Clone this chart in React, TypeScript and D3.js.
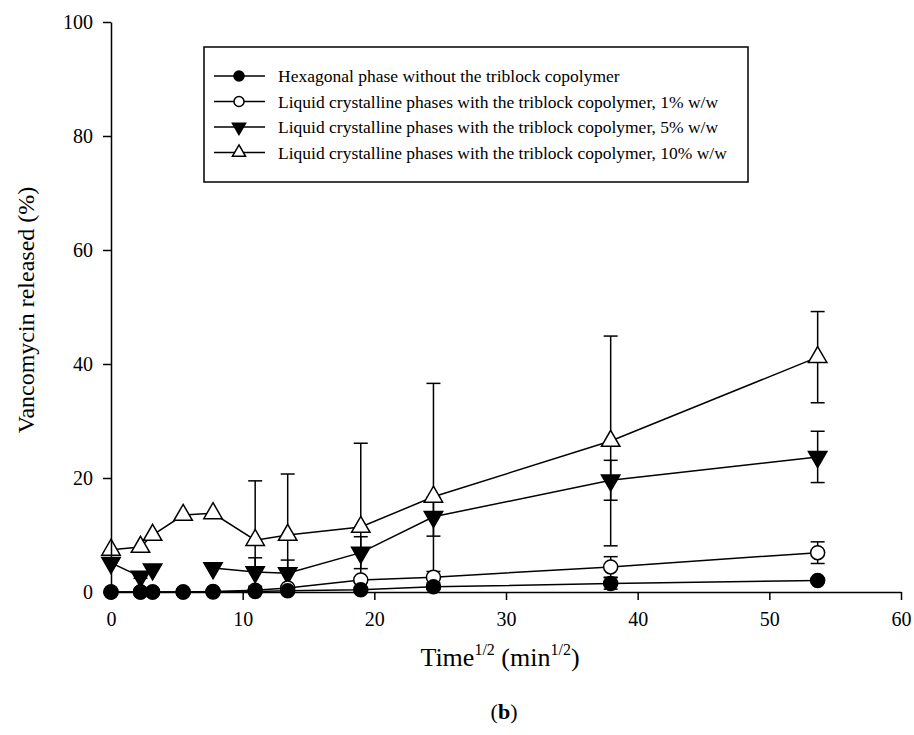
import React, { useEffect, useRef } from "react"
import { scaleLinear, axisBottom, axisLeft, select, line, symbol, symbolTriangle } from "d3"

// time^(1/2) in min^(1/2)
const timeSqrt = [0, 2.24, 3.16, 5.48, 7.75, 10.95, 13.42, 18.97, 24.49, 37.95, 53.67]

const hexagonal = [0, 0, 0, 0, 0, 0.1, 0.2, 0.4, 0.9, 1.5, 2.0]
const hexagonalErr = [0, 0, 0, 0, 0, 0.2, 0.3, 0.3, 0.4, 1.0, 0.4]

const lc1 = [0, 0, 0, 0, 0.1, 0.3, 0.7, 2.1, 2.6, 4.4, 6.9]
const lc1Err = [0, 0, 0, 0, 0, 0.2, 0.3, 0.4, 1.0, 1.8, 1.9]

const lc5 = [5.1, 2.7, 4.0, null, 4.2, 3.5, 3.3, 6.9, 13.2, 19.6, 23.7]
const lc5Err = [0, 0.3, 0, null, 0, 2.5, 2.3, 2.8, 3.4, 3.5, 4.5]

const lc10 = [7.4, 7.9, 10.0, 13.5, 13.8, 9.1, 10.0, 11.4, 16.7, 26.5, 41.2]
const lc10Err = [0, 0, 0, 0, 0, 10.4, 10.7, 14.7, 19.9, 18.4, 8.0]

const legendLabels = [
  "Hexagonal phase without the triblock copolymer",
  "Liquid crystalline phases with the triblock copolymer, 1% w/w",
  "Liquid crystalline phases with the triblock copolymer, 5% w/w",
  "Liquid crystalline phases with the triblock copolymer, 10% w/w"
]

const xTicks = [0, 10, 20, 30, 40, 50, 60]
const yTicks = [0, 20, 40, 60, 80, 100]

const FONT = "'Liberation Serif', 'Times New Roman', serif"

type Kind = "filled" | "open" | "down" | "up"

function Marker({ kind, cx, cy, size }: { kind: Kind; cx: number; cy: number; size: number }) {
  if (kind === "filled" || kind === "open") {
    return (
      <circle cx={cx} cy={cy} r={size}
        fill={kind === "filled" ? "#000" : "#fff"} stroke="#000" strokeWidth={1.5} />
    )
  }
  const area = size * size * 3.0
  const p = symbol(symbolTriangle, area)()
  const rot = kind === "down" ? " rotate(180)" : ""
  return (
    <path d={p || ""} transform={`translate(${cx},${cy})${rot}`}
      fill={kind === "down" ? "#000" : "#fff"} stroke="#000" strokeWidth={1.5} />
  )
}

export default function App() {
  const xAxisRef = useRef<SVGGElement>(null)
  const yAxisRef = useRef<SVGGElement>(null)

  const x = scaleLinear().domain([0, 60]).range([111, 901])
  const y = scaleLinear().domain([0, 100]).range([592, 22])

  useEffect(() => {
    document.body.style.margin = "0"
    const xa = select(xAxisRef.current!)
    xa.call(axisBottom(x).tickValues(xTicks).tickSize(8).tickSizeOuter(0).tickPadding(12))
    const ya = select(yAxisRef.current!)
    ya.call(axisLeft(y).tickValues(yTicks).tickSize(8).tickSizeOuter(0).tickPadding(10))
    for (const g of [xa, ya]) {
      g.selectAll("path, line").attr("stroke", "#000").attr("stroke-width", 1.5)
      g.selectAll("text").attr("font-family", FONT).attr("font-size", 20).attr("fill", "#000")
    }
  }, [])

  const series: { kind: Kind; vals: (number | null)[]; errs: (number | null)[] }[] = [
    { kind: "up", vals: lc10, errs: lc10Err },
    { kind: "down", vals: lc5, errs: lc5Err },
    { kind: "open", vals: lc1, errs: lc1Err },
    { kind: "filled", vals: hexagonal, errs: hexagonalErr }
  ]

  const pathGen = line<number>()
    .defined(d => d !== null)
    .x((d, i) => x(timeSqrt[i]))
    .y(d => y(d))

  const capW = 7
  const legendRows = [
    { kind: "filled" as Kind, label: legendLabels[0] },
    { kind: "open" as Kind, label: legendLabels[1] },
    { kind: "down" as Kind, label: legendLabels[2] },
    { kind: "up" as Kind, label: legendLabels[3] }
  ]

  return (
    <svg width={914} height={735} style={{ display: "block", background: "#fff" }}>
      {/* error bars */}
      {series.map((s, si) => (
        <g key={"e" + si} stroke="#000" strokeWidth={1.5}>
          {s.vals.map((v, i) => {
            const e = s.errs[i]
            if (v === null || !e) return null
            const cx = x(timeSqrt[i])
            const top = v + e
            const bot = Math.max(v - e, 0)
            return (
              <g key={i}>
                <line x1={cx} x2={cx} y1={y(top)} y2={y(bot)} />
                <line x1={cx - capW} x2={cx + capW} y1={y(top)} y2={y(top)} />
                {v - e >= 0 && <line x1={cx - capW} x2={cx + capW} y1={y(bot)} y2={y(bot)} />}
              </g>
            )
          })}
        </g>
      ))}
      {/* lines */}
      {series.map((s, si) => (
        <path key={"l" + si} d={pathGen(s.vals as number[]) || ""} fill="none" stroke="#000" strokeWidth={1.5} />
      ))}
      {/* markers */}
      {series.map((s, si) => (
        <g key={"m" + si}>
          {s.vals.map((v, i) => v === null ? null : (
            <Marker key={i} kind={s.kind} cx={x(timeSqrt[i])} cy={y(v)} size={7} />
          ))}
        </g>
      ))}

      <g ref={xAxisRef} transform={`translate(0,${y(0)})`} />
      <g ref={yAxisRef} transform={`translate(${x(0)},0)`} />

      {/* legend */}
      <rect x={204} y={47} width={544} height={135} fill="#fff" stroke="#000" strokeWidth={1.5} />
      {legendRows.map((r, i) => {
        const cy = 76 + i * 25.5
        return (
          <g key={i}>
            <line x1={214} x2={265} y1={cy} y2={cy} stroke="#000" strokeWidth={1.5} />
            <Marker kind={r.kind} cx={239} cy={cy} size={5} />
            <text x={278} y={cy + 6} fontFamily={FONT} fontSize={17.5} fill="#000">{r.label}</text>
          </g>
        )
      })}

      {/* axis titles */}
      <text transform="translate(34,310) rotate(-90)" textAnchor="middle" fontFamily={FONT} fontSize={24} fill="#000">
        Vancomycin released (%)
      </text>
      <text x={500} y={666} textAnchor="middle" fontFamily={FONT} fontSize={26} fill="#000">
        Time<tspan dy={-11} fontSize={16}>1/2</tspan><tspan dy={11}> (min</tspan><tspan dy={-11} fontSize={16}>1/2</tspan><tspan dy={11}>)</tspan>
      </text>
      <text x={504} y={719} textAnchor="middle" fontFamily={FONT} fontSize={22} fill="#000">
        (<tspan fontWeight="bold">b</tspan>)
      </text>
    </svg>
  )
}
